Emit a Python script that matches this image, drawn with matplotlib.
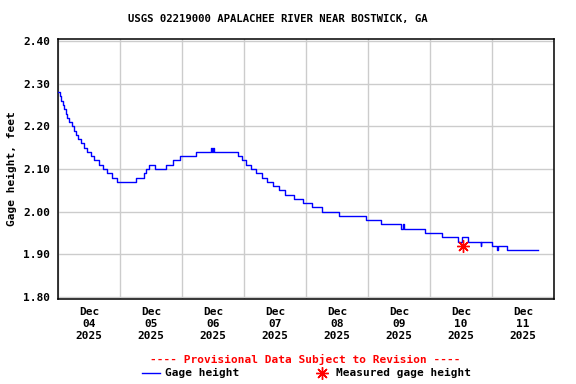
import matplotlib
matplotlib.use("Agg")
import matplotlib.pyplot as plt
import matplotlib.dates as mdates
from matplotlib.lines import Line2D
import pandas as pd

# ---- data (step changes of gage height, feet) ----
step_times = [
    "2025-12-04 00:00", "2025-12-04 00:35", "2025-12-04 01:10", "2025-12-04 01:45",
    "2025-12-04 02:20", "2025-12-04 02:55", "2025-12-04 03:40", "2025-12-04 04:25",
    "2025-12-04 05:15", "2025-12-04 06:00", "2025-12-04 07:00", "2025-12-04 07:55",
    "2025-12-04 09:05", "2025-12-04 10:05", "2025-12-04 11:15", "2025-12-04 12:35",
    "2025-12-04 13:55", "2025-12-04 15:50", "2025-12-04 17:35", "2025-12-04 19:00",
    "2025-12-04 20:55", "2025-12-04 22:45", "2025-12-05 06:10", "2025-12-05 09:15",
    "2025-12-05 09:55", "2025-12-05 11:05", "2025-12-05 13:40", "2025-12-05 17:50",
    "2025-12-05 20:40", "2025-12-05 23:05", "2025-12-06 05:25", "2025-12-06 11:05",
    "2025-12-06 11:35", "2025-12-06 11:50", "2025-12-06 12:25", "2025-12-06 21:45",
    "2025-12-06 23:20", "2025-12-07 00:45", "2025-12-07 02:45", "2025-12-07 04:40",
    "2025-12-07 06:50", "2025-12-07 08:45", "2025-12-07 11:05", "2025-12-07 13:40",
    "2025-12-07 15:50", "2025-12-07 19:20", "2025-12-07 22:45", "2025-12-08 02:25",
    "2025-12-08 06:20", "2025-12-08 12:45", "2025-12-08 23:05", "2025-12-09 04:55",
    "2025-12-09 12:40", "2025-12-09 13:40", "2025-12-09 13:55", "2025-12-09 22:05",
    "2025-12-10 04:30", "2025-12-10 10:55", "2025-12-10 12:25", "2025-12-10 14:50",
    "2025-12-10 19:35", "2025-12-10 19:50", "2025-12-10 23:55", "2025-12-11 01:55",
    "2025-12-11 02:10", "2025-12-11 05:40", "2025-12-11 17:55",
]
step_values = [
    2.28, 2.27, 2.26, 2.25,
    2.24, 2.23, 2.22, 2.21,
    2.20, 2.19, 2.18, 2.17,
    2.16, 2.15, 2.14, 2.13,
    2.12, 2.11, 2.10, 2.09,
    2.08, 2.07, 2.08, 2.09,
    2.10, 2.11, 2.10, 2.11,
    2.12, 2.13, 2.14, 2.15,
    2.14, 2.15, 2.14, 2.13,
    2.12, 2.11, 2.10, 2.09,
    2.08, 2.07, 2.06, 2.05,
    2.04, 2.03, 2.02, 2.01,
    2.00, 1.99, 1.98, 1.97,
    1.96, 1.97, 1.96, 1.95,
    1.94, 1.93, 1.94, 1.93,
    1.92, 1.93, 1.92, 1.91,
    1.92, 1.91, 1.91,
]
measured_times = ["2025-12-10 12:45"]
measured_values = [1.92]

y_ticks = [1.80, 1.90, 2.00, 2.10, 2.20, 2.30, 2.40]
day_labels = ["Dec\n04\n2025", "Dec\n05\n2025", "Dec\n06\n2025", "Dec\n07\n2025",
              "Dec\n08\n2025", "Dec\n09\n2025", "Dec\n10\n2025", "Dec\n11\n2025"]

title = "USGS 02219000 APALACHEE RIVER NEAR BOSTWICK, GA"

# ---- figure ----
W, H = 576, 384
fig = plt.figure(figsize=(W / 100, H / 100), dpi=100)
FONT = "DejaVu Sans Mono"
fs = 8

ax = fig.add_axes([58 / W, 1 - 299 / H, (554 - 58) / W, (299 - 39) / H])

t = pd.to_datetime(step_times)
ax.plot(t, step_values, drawstyle="steps-post", color="#0000ff", lw=1.0, zorder=3)
ax.plot(pd.to_datetime(measured_times), measured_values, linestyle="none",
        marker=(8, 2, 0), markersize=9, mew=1.0, color="#ff0000", zorder=4)

start = pd.Timestamp("2025-12-04 00:00")
end = pd.Timestamp("2025-12-12 00:00")
ax.set_xlim(start, end)
ax.set_ylim(1.7953, 2.4047)

midnights = pd.date_range(start, end, freq="D")
noons = pd.date_range("2025-12-04 12:00", periods=8, freq="D")
ax.set_xticks(midnights, minor=True)
ax.set_xticks(noons)
ax.set_xticklabels(day_labels, fontfamily=FONT, fontweight="bold", fontsize=fs,
                   linespacing=1.25)
ax.set_yticks(y_ticks)
ax.set_yticklabels([f"{v:.2f}" for v in y_ticks], fontfamily=FONT,
                   fontweight="bold", fontsize=fs)
ax.tick_params(axis="x", which="both", length=0, pad=6)
ax.tick_params(axis="y", length=0, pad=5.5)

ax.grid(True, axis="x", which="minor", color="#cccccc", lw=1.0)
ax.grid(True, axis="y", which="major", color="#cccccc", lw=1.0)
ax.grid(False, axis="x", which="major")
for s in ax.spines.values():
    s.set_color("black")
    s.set_linewidth(1.1)

fig.text(277.5 / W, 1 - 19 / H, title, ha="center", va="center",
         fontfamily=FONT, fontweight="bold", fontsize=7.7)
fig.text(12 / W, 1 - 169 / H, "Gage height, feet", rotation=90, ha="center",
         va="center", fontfamily=FONT, fontweight="bold", fontsize=fs)

fig.text(305 / W, 1 - 359 / H, "---- Provisional Data Subject to Revision ----",
         ha="center", va="center", color="#ff0000", fontfamily=FONT,
         fontweight="bold", fontsize=fs)

# legend row
ly = 1 - 373 / H
fig.add_artist(Line2D([142 / W, 160 / W], [ly, ly], color="#0000ff", lw=1.0,
                      transform=fig.transFigure))
fig.text(165 / W, ly, "Gage height", ha="left", va="center", fontfamily=FONT,
         fontweight="bold", fontsize=fs)
fig.add_artist(Line2D([322 / W], [ly], linestyle="none", marker=(8, 2, 0),
                      markersize=9, mew=1.0, color="#ff0000",
                      transform=fig.transFigure))
fig.text(336 / W, ly, "Measured gage height", ha="left", va="center",
         fontfamily=FONT, fontweight="bold", fontsize=fs)

fig.savefig("out.png", dpi=100)
